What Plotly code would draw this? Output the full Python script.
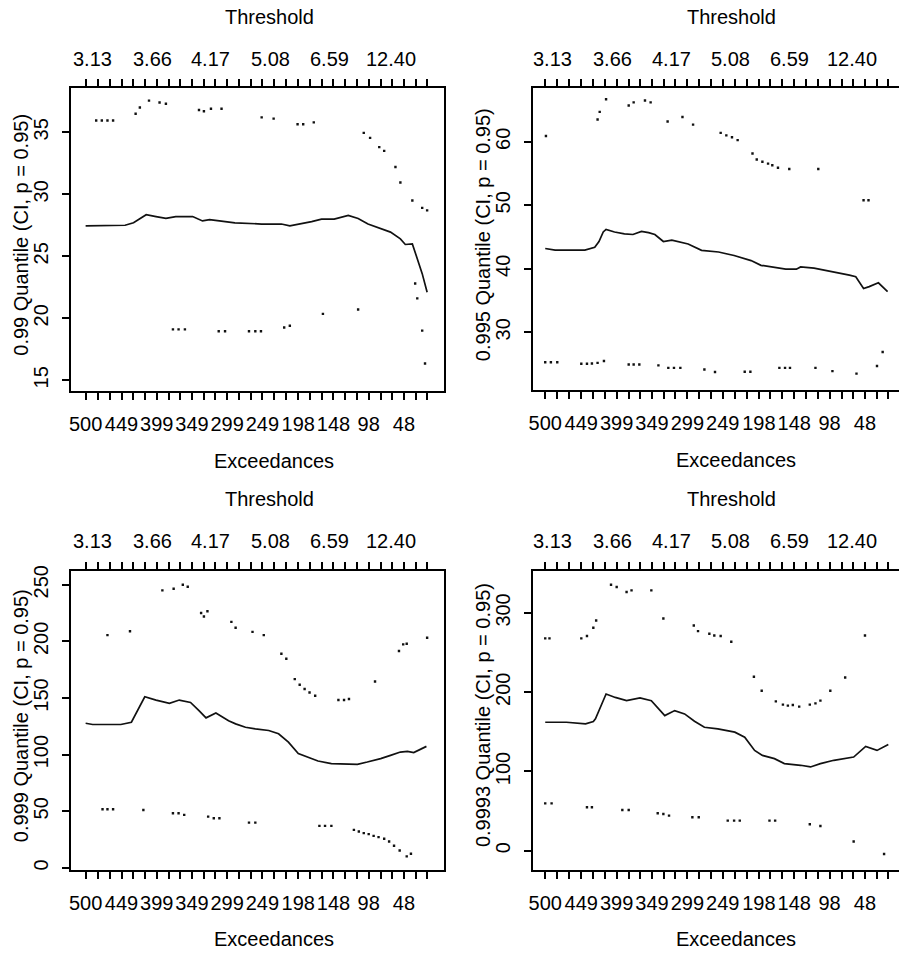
import plotly.graph_objects as go

W, H = 899, 954
FONT = "Liberation Sans, Arial, Helvetica, sans-serif"

# ---------------- data ----------------
# bottom axis: number of exceedances (30 models), labels on every 3rd tick
EXCEED_TICKS = [500, 483, 466, 449, 433, 416, 399, 382, 366, 349, 332, 316, 299, 282, 265,
                249, 232, 215, 198, 182, 165, 148, 132, 115, 98, 81, 65, 48, 31, 15]
EXCEED_LABELS = ["500", "", "", "449", "", "", "399", "", "", "349", "", "", "299", "", "",
                 "249", "", "", "198", "", "", "148", "", "", "98", "", "", "48", "", ""]
# top axis: threshold labels (placed in exceedance coordinates)
THRESH_POS = [490, 405, 322, 238, 154, 67]
THRESH_LABELS = ["3.13", "3.66", "4.17", "5.08", "6.59", "12.40"]

# panel 1: p = 0.99
q99_n = [500, 480, 460, 444, 432, 422, 414, 400, 386, 372, 348, 334, 324, 310, 288, 250, 222, 210,
         195, 179, 165, 147, 127, 113, 99, 81, 67, 53, 46, 36, 30, 22, 15]
q99_v = [27.45, 27.45, 27.45, 27.5, 27.7, 28.1, 28.35, 28.2, 28.05, 28.2, 28.2, 27.85, 27.95, 27.85,
         27.7, 27.6, 27.6, 27.45, 27.6, 27.8, 28.0, 28.0, 28.3, 28.05, 27.6, 27.25, 26.95, 26.4, 25.95,
         26.0, 25.0, 23.6, 22.1]
q99_up_n = [485, 477, 469, 461, 429, 423, 410, 395, 386, 339, 332, 322, 307, 250, 233, 199, 191, 176,
            105, 96, 83, 76, 60, 53, 36, 22, 15]
q99_up_v = [35.95, 35.95, 35.95, 35.95, 36.5, 37.0, 37.55, 37.4, 37.3, 36.8, 36.7, 36.9, 36.9, 36.2,
            36.1, 35.65, 35.65, 35.8, 34.95, 34.55, 33.8, 33.5, 32.2, 30.95, 29.5, 28.9, 28.7]
q99_lo_n = [376, 368, 359, 311, 302, 268, 259, 251, 218, 210, 163, 113, 32, 29, 22, 18]
q99_lo_v = [19.1, 19.1, 19.1, 18.95, 18.95, 18.95, 18.95, 18.95, 19.25, 19.4, 20.35, 20.7, 22.8, 21.6,
            19.0, 16.35]

# panel 2: p = 0.995
q995_n = [500, 486, 444, 430, 424, 418, 414, 402, 388, 376, 364, 354, 345, 333, 321, 307, 298, 279,
          255, 233, 209, 195, 181, 160, 145, 139, 120, 100, 85, 70, 61, 50, 42, 29, 16]
q995_v = [43.2, 42.95, 42.95, 43.4, 44.3, 45.8, 46.2, 45.8, 45.5, 45.4, 45.9, 45.7, 45.4, 44.3, 44.5,
          44.1, 43.9, 42.9, 42.65, 42.1, 41.3, 40.55, 40.3, 39.95, 39.95, 40.3, 40.1, 39.7, 39.3, 39.0,
          38.75, 36.9, 37.2, 37.8, 36.4]
q995_up_n = [499, 426, 423, 414, 382, 375, 359, 351, 327, 306, 291, 252, 244, 236, 228, 207, 201, 193,
             185, 179, 171, 155, 114, 50, 43]
q995_up_v = [60.9, 63.5, 64.7, 66.7, 65.7, 66.2, 66.5, 66.2, 63.2, 63.9, 62.7, 61.4, 61.0, 60.7, 60.25,
             58.15, 57.2, 56.85, 56.55, 56.3, 55.9, 55.7, 55.7, 50.8, 50.8]
q995_lo_n = [500, 492, 483, 449, 441, 434, 426, 417, 382, 375, 367, 340, 326, 318, 309, 275, 260, 218,
             210, 169, 161, 154, 118, 94, 60, 31, 23]
q995_lo_v = [25.3, 25.3, 25.3, 25.05, 25.05, 25.1, 25.2, 25.5, 24.95, 24.95, 24.95, 24.8, 24.4, 24.4,
             24.4, 24.15, 23.75, 23.8, 23.8, 24.4, 24.4, 24.4, 24.4, 23.9, 23.5, 24.7, 26.9]

# panel 3: p = 0.999
q999_n = [500, 490, 470, 450, 435, 425, 416, 400, 381, 367, 351, 339, 329, 315, 297, 287, 273, 259,
          240, 226, 212, 198, 184, 170, 151, 133, 114, 100, 81, 67, 53, 43, 34, 16]
q999_v = [127.7, 126.6, 126.6, 126.6, 128.6, 140, 151.1, 148.2, 145.3, 148.2, 146.1, 138.9, 132.5,
          136.8, 130, 127.2, 124.2, 122.8, 121.3, 118.4, 111, 100.9, 97.9, 94.4, 92.1, 91.5, 91.5,
          93.5, 96.5, 99.4, 102.3, 102.9, 101.8, 107.3]
q999_up_n = [469, 437, 391, 375, 362, 355, 336, 332, 327, 293, 287, 263, 247, 222, 215, 203, 196, 189,
             182, 174, 141, 133, 126, 89, 55, 49, 44, 15]
q999_up_v = [205.5, 209, 245, 246.5, 250, 248.2, 225, 222, 226.6, 217.2, 212, 208.4, 205.5, 189.1,
             184.7, 166.7, 161.7, 157.9, 154.9, 152, 148.2, 148.2, 149.1, 164.6, 191.5, 197.4, 197.9,
             203.2]
q999_lo_n = [476, 469, 461, 418, 376, 368, 360, 326, 318, 310, 268, 259, 168, 160, 151, 119, 112, 105,
             98, 91, 84, 76, 69, 62, 54, 44, 38]
q999_lo_v = [51.8, 51.8, 51.8, 51.1, 48.2, 48.2, 46.8, 45.3, 43.9, 43.9, 40, 40, 37.1, 37.1, 37.1,
             33.6, 32.1, 30.7, 29.8, 28.3, 27.2, 25.7, 23.3, 19.6, 15.4, 10.2, 12.5]

# panel 4: p = 0.9993
q9993_n = [500, 470, 443, 432, 429, 420, 414, 401, 385, 366, 350, 331, 317, 303, 289, 275, 256, 232,
           218, 204, 193, 176, 162, 139, 125, 111, 92, 64, 47, 31, 15]
q9993_v = [162.1, 162.1, 160.1, 163, 166.4, 185, 197.7, 193.4, 189.3, 192.7, 189.3, 170.5, 176.8,
           172.6, 163.3, 155.8, 153.8, 149.6, 143.3, 126.6, 120.3, 116.2, 109.9, 107.8, 105.7, 109.9,
           114.1, 118.2, 131.6, 126.6, 134.1]
q9993_up_n = [500, 494, 449, 441, 432, 428, 407, 399, 385, 378, 350, 333, 290, 284, 268, 261, 252, 237,
              205, 194, 174, 164, 157, 150, 141, 126, 118, 111, 97, 76, 48]
q9993_up_v = [267.9, 267.9, 267.9, 270.8, 281.2, 290.5, 335.6, 332.6, 326.3, 328.4, 328.4, 292.9,
              284.2, 277, 273.7, 271.6, 270.8, 263.6, 219.4, 201.8, 188.4, 184.3, 183, 183.9, 181.8,
              184.3, 185.9, 189.3, 201.8, 218.5, 271.6]
q9993_lo_n = [500, 491, 441, 434, 391, 382, 341, 333, 325, 292, 283, 242, 233, 225, 183, 175, 126, 111,
              64, 21]
q9993_lo_v = [59.8, 59.8, 54.8, 54.8, 51.4, 51.4, 47.3, 46.4, 44.3, 42.2, 42.2, 38, 38, 38, 38, 38,
              33.4, 31.3, 11.7, -4.2]

YTITLES = ["0.99 Quantile (CI, p = 0.95)", "0.995 Quantile (CI, p = 0.95)",
           "0.999 Quantile (CI, p = 0.95)", "0.9993 Quantile (CI, p = 0.95)"]
YTICKS = [[15, 20, 25, 30, 35], [30, 40, 50, 60], [0, 50, 100, 150, 200, 250], [0, 100, 200, 300]]

# ---------------- layout geometry (pixels) ----------------
PANELS = [
    dict(px=(67, 442), py=(83, 388), xr=(521.2, -9.0), yr=(14.12, 38.54), right=False,
         data=(q99_n, q99_v, q99_up_n, q99_up_v, q99_lo_n, q99_lo_v)),
    dict(px=(531, 899), py=(83, 387), xr=(517.8, -0.1), yr=(20.9, 68.4), right=True,
         data=(q995_n, q995_v, q995_up_n, q995_up_v, q995_lo_n, q995_lo_v)),
    dict(px=(67, 442), py=(569, 870), xr=(521.2, -9.0), yr=(-1.5, 262.3), right=False,
         data=(q999_n, q999_v, q999_up_n, q999_up_v, q999_lo_n, q999_lo_v)),
    dict(px=(531, 899), py=(569, 870), xr=(517.8, -0.1), yr=(-23.8, 353.1), right=True,
         data=(q9993_n, q9993_v, q9993_up_n, q9993_up_v, q9993_lo_n, q9993_lo_v)),
]


def fx(p):
    return p / W


def fy(p):
    return 1 - p / H


fig = go.Figure()
layout = dict(width=W, height=H, margin=dict(l=0, r=0, t=0, b=0),
              paper_bgcolor="white", plot_bgcolor="white", showlegend=False,
              font=dict(family=FONT, size=20, color="black"))
annotations = []
INK = "#111111"

for i, P in enumerate(PANELS):
    xid = i + 1
    yid = i + 1
    xdom = [fx(P["px"][0]), min(1.0, fx(P["px"][1]))]
    ydom = [fy(P["py"][1]), fy(P["py"][0])]
    n, v, un, uv, ln, lv = P["data"]

    fig.add_trace(go.Scatter(x=n, y=v, mode="lines", line=dict(color=INK, width=1.7),
                             xaxis=f"x{xid}", yaxis=f"y{yid}", hoverinfo="skip"))
    for cn, cv in ((un, uv), (ln, lv)):
        fig.add_trace(go.Scatter(x=cn, y=cv, mode="markers",
                                 marker=dict(color=INK, size=2.4, symbol="square", line=dict(width=0)),
                                 xaxis=f"x{xid}", yaxis=f"y{yid}", hoverinfo="skip"))

    layout[f"xaxis{xid}"] = dict(domain=xdom, range=list(P["xr"]), anchor=f"y{yid}",
                                 autorange=False, showgrid=False, zeroline=False,
                                 side="bottom", showline=True, linecolor="black", linewidth=2,
                                 mirror="ticks", tickmode="array", tickangle=0,
                                 tickvals=EXCEED_TICKS, ticktext=EXCEED_LABELS, ticks="outside",
                                 ticklen=7, tickwidth=2, tickcolor="black",
                                 ticklabelstandoff=7, tickfont=dict(size=20, family=FONT))
    layout[f"yaxis{yid}"] = dict(domain=ydom, range=list(P["yr"]), anchor=f"x{xid}", showgrid=False,
                                 zeroline=False, showline=True, linecolor="black", linewidth=2,
                                 mirror=not P["right"], tickmode="array", tickvals=YTICKS[i],
                                 ticks="outside", ticklen=7, tickwidth=2, tickcolor="black",
                                 tickangle=-90, ticklabelstandoff=6, autorange=False,
                                 tickfont=dict(size=20, family=FONT))

    left = P["px"][0]
    top = P["py"][0]
    bottom = P["py"][1]
    # threshold labels along the top axis, positioned with the exceedance scale
    for pos, lab in zip(THRESH_POS, THRESH_LABELS):
        annotations.append(dict(text=lab, x=pos, xref=f"x{xid}", y=fy(top - 30), yref="paper",
                                showarrow=False, xanchor="center", yanchor="middle",
                                font=dict(size=20, family=FONT)))
    cx = left + 200
    annotations.append(dict(text="Threshold", x=fx(cx), y=fy(top - 72), xref="paper", yref="paper",
                            showarrow=False, xanchor="center", yanchor="middle",
                            font=dict(size=20, family=FONT)))
    annotations.append(dict(text="Exceedances", x=fx(cx + 4), y=fy(bottom + 70), xref="paper",
                            yref="paper", showarrow=False, xanchor="center", yanchor="middle",
                            font=dict(size=20, family=FONT)))
    annotations.append(dict(text=YTITLES[i], x=fx(left - 50), y=fy((top + bottom) / 2 - 5),
                            xref="paper", yref="paper", showarrow=False, textangle=-90,
                            xanchor="center", yanchor="middle", font=dict(size=20, family=FONT)))

layout["annotations"] = annotations
fig.update_layout(**layout)
fig.write_html("out.html")
